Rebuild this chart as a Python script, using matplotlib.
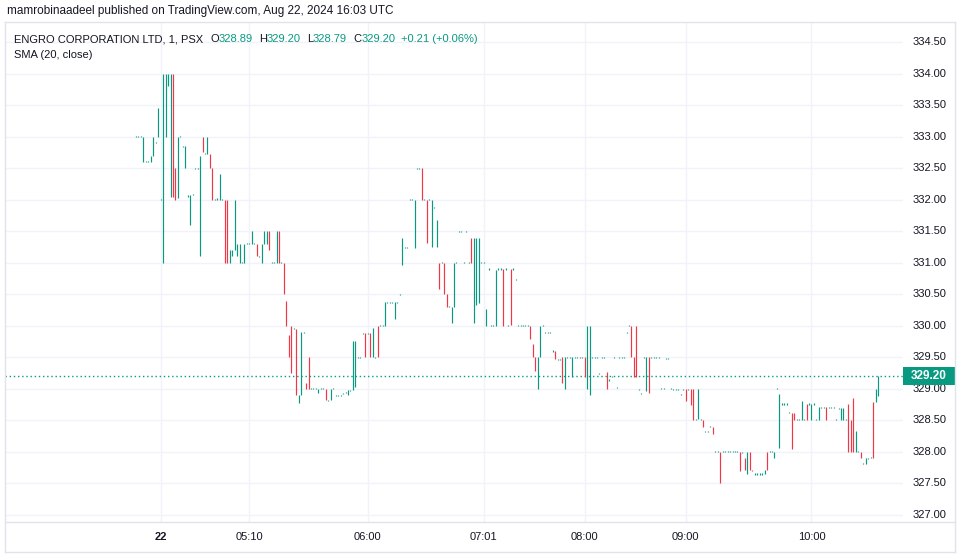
import matplotlib
matplotlib.use("Agg")
import matplotlib.pyplot as plt
from matplotlib.lines import Line2D
from matplotlib.patches import Rectangle
import matplotlib.transforms as mtransforms
import numpy as np

# ---------------- data (1-minute bars) ----------------
opens = [
    333.0, 333.0, 333.0, 332.6, 332.6, 332.6, 332.6, 332.7, 332.9, 333.0,
    332.0, 331.0, 333.0, 333.8, 332.05, 334.0, 332.5, 332.03, 333.0, 332.85,
    332.5, 332.05, 331.6, 332.08, 332.5, 332.5, 331.1, 333.0, 332.73, 332.73,
    332.73, 332.5, 332.0, 332.0, 332.0, 332.0, 332.0, 332.0, 331.0, 331.1,
    331.2, 331.1, 331.0, 331.0, 331.0, 331.3, 331.3, 331.3, 331.3, 331.3,
    331.1, 331.0, 331.3, 331.3, 331.5, 331.0, 331.0, 331.0, 331.5, 331.0,
    331.0, 330.4, 329.85, 330.0, 329.95, 329.95, 328.77, 328.9, 329.9, 329.1,
    329.5, 329.0, 329.0, 329.0, 328.94, 329.0, 329.0, 329.0, 328.82, 328.82,
    329.0, 328.9, 328.9, 328.9, 328.92, 328.94, 328.9, 328.98, 328.98, 329.03,
    329.5, 329.5, 329.88, 329.88, 329.88, 329.88, 329.5, 329.5, 330.0, 330.0,
    330.0, 330.0, 330.37, 330.37, 330.37, 330.1, 330.37, 330.5, 330.96, 331.24,
    331.24, 332.0, 332.0, 331.24, 332.5, 332.5, 332.5, 332.0, 332.0, 332.0,
    331.25, 331.88, 331.25, 331.0, 331.0, 331.0, 330.51, 330.3, 330.04, 330.3,
    331.0, 331.5, 331.5, 331.0, 331.5, 331.0, 331.39, 330.04, 330.33, 330.36,
    331.0, 331.0, 330.0, 330.9, 330.0, 330.0, 330.0, 330.9, 330.9, 330.9,
    330.9, 330.0, 330.9, 330.9, 330.74, 330.0, 330.0, 330.0, 330.0, 330.0,
    330.0, 329.71, 329.5, 328.99, 329.5, 330.0, 329.9, 329.9, 329.9, 329.6,
    329.6, 329.47, 329.47, 329.5, 328.99, 329.5, 329.5, 329.19, 329.5, 329.5,
    329.5, 329.5, 329.5, 329.0, 328.9, 329.5, 329.5, 329.5, 329.25, 329.5,
    329.5, 329.26, 329.14, 329.19, 329.5, 329.02, 329.5, 329.5, 329.5, 329.89,
    330.0, 330.0, 329.5, 330.0, 328.99, 328.92, 329.5, 328.96, 329.5, 329.5,
    329.5, 329.5, 329.5, 329.01, 329.01, 329.48, 329.48, 329.01, 328.99, 328.99,
    328.99, 328.91, 328.99, 328.99, 328.99, 328.99, 328.99, 328.51, 328.53, 328.52,
    328.51, 328.33, 328.33, 328.4, 328.4, 328.0, 328.0, 328.0, 328.0, 328.0,
    328.0, 328.0, 328.0, 328.0, 328.0, 328.0, 327.99, 327.91, 327.65, 328.0,
    327.72, 327.65, 327.65, 327.65, 327.65, 327.65, 328.0, 328.0, 328.0, 327.91,
    329.0, 328.06, 328.76, 328.76, 328.76, 328.62, 328.61, 328.61, 328.51, 328.51,
    328.51, 328.51, 328.76, 328.76, 328.51, 328.76, 328.51, 328.51, 328.71, 328.71,
    328.71, 328.71, 328.71, 328.71, 328.51, 328.69, 328.51, 328.51, 328.51, 328.76,
    328.51, 328.85, 328.0, 328.0, 328.0, 327.81, 327.81, 327.9, 327.91, 328.79,
    328.79, 328.89,
]
closes = [
    333.0, 333.0, 333.0, 333.0, 332.6, 332.6, 332.7, 333.0, 332.9, 333.45,
    332.0, 334.0, 334.0, 334.0, 334.0, 332.05, 332.0, 333.0, 333.0, 332.85,
    332.85, 332.08, 332.08, 332.08, 332.5, 332.5, 332.7, 332.75, 332.73, 333.0,
    332.5, 332.0, 332.0, 332.03, 332.4, 332.0, 331.0, 331.0, 331.2, 331.2,
    332.0, 331.3, 331.3, 331.0, 331.3, 331.3, 331.3, 331.5, 331.3, 331.1,
    331.1, 331.3, 331.5, 331.5, 331.2, 331.0, 331.0, 331.5, 331.0, 331.0,
    330.5, 330.0, 329.5, 329.25, 329.95, 328.9, 328.9, 329.9, 329.9, 329.0,
    329.0, 329.0, 329.0, 329.0, 329.0, 329.0, 329.0, 328.82, 328.82, 329.0,
    329.0, 328.9, 328.9, 328.9, 328.92, 328.94, 328.98, 328.98, 329.76, 329.76,
    329.5, 329.5, 329.88, 329.5, 329.88, 329.5, 329.96, 329.5, 329.5, 330.0,
    330.0, 330.38, 330.37, 330.37, 330.37, 330.37, 330.37, 330.5, 331.39, 331.24,
    331.24, 332.0, 332.0, 332.0, 332.5, 332.5, 332.0, 332.0, 331.31, 332.0,
    332.0, 331.88, 331.68, 330.59, 331.0, 330.51, 330.3, 330.3, 330.3, 331.0,
    331.0, 331.5, 331.5, 331.0, 331.5, 331.0, 331.0, 331.39, 331.39, 331.39,
    331.0, 331.0, 330.26, 330.9, 330.0, 330.0, 330.88, 330.9, 330.9, 330.0,
    330.9, 330.0, 330.01, 330.9, 330.74, 330.0, 330.0, 330.0, 330.0, 330.0,
    329.79, 329.5, 329.29, 329.5, 330.0, 330.0, 329.9, 329.9, 329.9, 329.6,
    329.47, 329.47, 329.47, 329.1, 329.5, 329.5, 329.5, 329.5, 329.5, 329.5,
    329.5, 329.5, 329.19, 330.0, 330.0, 329.5, 329.5, 329.5, 329.25, 329.5,
    329.5, 329.0, 329.14, 329.19, 329.5, 329.02, 329.5, 329.5, 329.5, 329.89,
    330.0, 329.5, 329.19, 329.19, 328.99, 328.92, 329.5, 329.5, 328.93, 329.5,
    329.5, 329.5, 329.5, 329.01, 329.01, 329.48, 329.48, 329.01, 328.99, 328.99,
    328.99, 328.91, 328.99, 328.8, 328.99, 328.74, 328.51, 328.51, 328.99, 328.52,
    328.4, 328.33, 328.33, 328.4, 328.29, 328.0, 328.0, 327.5, 328.0, 328.0,
    328.0, 328.0, 328.0, 328.0, 328.0, 327.7, 327.99, 327.71, 328.0, 327.71,
    327.69, 327.65, 327.65, 327.65, 327.65, 327.72, 327.71, 328.0, 328.0, 328.0,
    329.0, 328.92, 328.76, 328.76, 328.76, 328.62, 328.05, 328.51, 328.51, 328.51,
    328.81, 328.51, 328.51, 328.76, 328.76, 328.76, 328.51, 328.71, 328.71, 328.71,
    328.51, 328.71, 328.71, 328.71, 328.51, 328.69, 328.69, 328.69, 328.51, 328.0,
    328.0, 328.0, 328.33, 328.0, 327.9, 327.81, 327.9, 327.9, 327.91, 327.91,
    329.0, 329.2,
]
last_price = 329.20
tick_idx = [10, 46, 94, 141, 182, 223, 274]
tick_labels = ["22", "05:10", "06:00", "07:01", "08:00", "09:00", "10:00"]
price_ticks = [327.0, 327.5, 328.0, 328.5, 329.0, 329.5, 330.0, 330.5,
               331.0, 331.5, 332.0, 332.5, 333.0, 333.5, 334.0, 334.5]
legend_pieces = [("ENGRO CORPORATION LTD, 1, PSX", "t", 7), ("O", "t", 0), ("328.89", "g", 6),
                 ("H", "t", 0), ("329.20", "g", 6), ("L", "t", 0), ("328.79", "g", 6),
                 ("C", "t", 0), ("329.20", "g", 6), ("+0.21 (+0.06%)", "g", 0)]

# ---------------- style ----------------
GREEN = "#089981"
RED = "#F23645"
TXT = "#131722"
GRID = "#f0f3fa"
BORDER = "#e0e3eb"
plt.rcParams["font.family"] = ["Liberation Sans", "DejaVu Sans"]

W, H = 961, 558
fig = plt.figure(figsize=(W / 100, H / 100), dpi=100)
fig.patch.set_facecolor("white")

# plot area: x 5..903 px, y 22..522 px
ax = fig.add_axes([5 / W, 1 - 522 / H, 898 / W, 500 / H])
ax.set_facecolor("white")
for sp in ax.spines.values():
    sp.set_visible(False)
ax.set_xticks([])
ax.set_yticks([])

N = len(opens)
o = np.array(opens)
c = np.array(closes)
x = np.arange(N)
step = 742 / (N - 1)          # px per bar
ax.set_xlim(-131 / step, (N - 1) + 25 / step)
ax.set_ylim(326.889, 334.817)

# grid
ax.hlines(price_ticks, *ax.get_xlim(), colors=GRID, linewidth=1.0, zorder=0)
ax.vlines(tick_idx, *ax.get_ylim(), colors=GRID, linewidth=1.0, zorder=0)

# bars
lo = np.minimum(o, c)
hi = np.maximum(o, c)
mid = (lo + hi) / 2
eps = 0.0085
flat = (hi - lo) < 0.02
lo2 = np.where(flat, mid - eps, lo)
hi2 = np.where(flat, mid + eps, hi)
cols = np.where(c >= o, GREEN, RED)
ax.vlines(x, lo2, hi2, colors=cols, linewidth=0.85, zorder=3)

# last price dotted line
ax.axhline(last_price, color=GREEN, linewidth=1.0, linestyle=(0, (1, 2)), zorder=2)

# price axis labels
trans_y = mtransforms.blended_transform_factory(ax.transAxes, ax.transData)
for p in price_ticks:
    ax.text(1 + 10 / 898, p, f"{p:.2f}", transform=trans_y, ha="left", va="center",
            fontsize=8, color=TXT, clip_on=False)

# last price tag
tag_h = 18 / 63.07
ax.add_patch(Rectangle((1.0, last_price - tag_h / 2), 52 / 898, tag_h, transform=trans_y,
                       facecolor=GREEN, edgecolor="none", clip_on=False, zorder=5))
ax.text(1 + 26 / 898, last_price, f"{last_price:.2f}", transform=trans_y, ha="center",
        va="center", fontsize=8.5, color="white", fontweight="bold", clip_on=False, zorder=6)

# time axis labels
trans_x = mtransforms.blended_transform_factory(ax.transData, ax.transAxes)
for i, lab in zip(tick_idx, tick_labels):
    ax.text(i, -15 / 500, lab, transform=trans_x, ha="center", va="center", fontsize=8,
            color=TXT, fontweight="bold" if lab == "22" else "normal", clip_on=False)

# frame lines (figure pixel coords)
def fline(x0, y0, x1, y1):
    fig.add_artist(Line2D([x0 / W, x1 / W], [1 - y0 / H, 1 - y1 / H], color=BORDER,
                          linewidth=1.0, transform=fig.transFigure))

fline(5, 22, 955, 22)
fline(5, 552, 955, 552)
fline(5, 22, 5, 552)
fline(955, 22, 955, 552)
fline(5, 522, 955, 522)

# header texts
def ftext(px, py, s, color=TXT, size=8.5):
    return fig.text(px / W, 1 - py / H, s, ha="left", va="center", fontsize=size, color=color)

ftext(7, 11, "mamrobinaadeel published on TradingView.com, Aug 22, 2024 16:03 UTC", size=8.5)

renderer = fig.canvas.get_renderer()
cx = 14
for s, kind, gap in legend_pieces:
    t = ftext(cx, 39, s, GREEN if kind == "g" else TXT, size=8)
    bb = t.get_window_extent(renderer=renderer)
    cx = bb.x1 + gap
ftext(14, 55, "SMA (20, close)", size=8)

fig.savefig("out.png", dpi=100, facecolor="white")
